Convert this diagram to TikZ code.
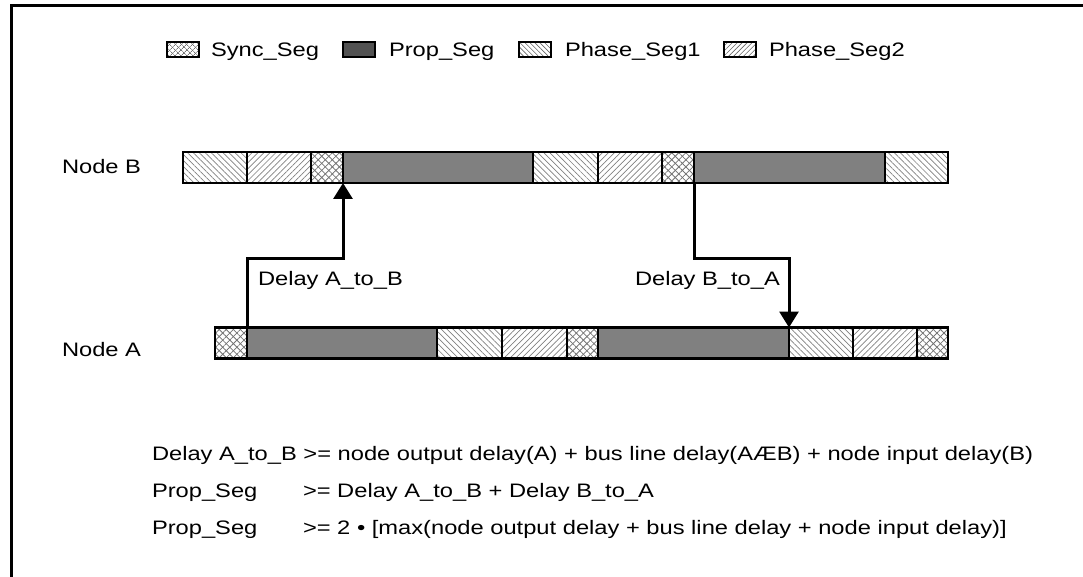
\documentclass[tikz,border=0pt]{standalone}
\usepackage{fontspec}
\setmainfont{Liberation Sans}[FakeStretch=1.215]
\usetikzlibrary{patterns.meta,arrows.meta}
\begin{document}
\begin{tikzpicture}[x=1pt,y=-1pt,
  every node/.style={inner sep=0pt,outer sep=0pt,font=\fontsize{19.5}{23}\selectfont},
  seg/.style={draw,line width=2.4pt,minimum height=31pt,rectangle},
  segsync/.style={seg,
    preaction={pattern={Lines[angle=45,distance=5pt,line width=0.8pt]},pattern color=black!55},
    pattern={Lines[angle=-45,distance=5pt,line width=0.8pt]},pattern color=black!55},
  segprop/.style={seg,fill=black!50},
  segph1/.style={seg,pattern={Lines[angle=-45,distance=4.2pt,line width=0.7pt]},pattern color=black!50},
  segph2/.style={seg,pattern={Lines[angle=45,distance=4.2pt,line width=0.7pt]},pattern color=black!50},
  legbox/.style={draw,line width=2pt,minimum width=32pt,minimum height=15pt,rectangle},
  lbl/.style={anchor=base west},
  conn/.style={line width=3pt},
  arr/.style={conn,-{Triangle[width=19pt,length=16pt]}}
]
\useasboundingbox (0,0) rectangle (1083,577);
% frame
\draw[line width=3pt] (11,577) -- (11,6) -- (1083,6);

% legend
\node[legbox,pattern={Lines[angle=45,distance=4pt,line width=0.7pt]},pattern color=black!55,
  preaction={pattern={Lines[angle=-45,distance=4pt,line width=0.7pt]},pattern color=black!55}] (l1) at (182.5,50) {};
\node[lbl] (t1) at (211,57) {Sync\_Seg};
\node[legbox,fill=black!68] (l2) at (359,50) {};
\node[lbl] (t2) at (389,57) {Prop\_Seg};
\node[legbox,pattern={Lines[angle=-45,distance=3.5pt,line width=0.6pt]},pattern color=black!60] (l3) at (534.5,50) {};
\node[lbl] (t3) at (565,57) {Phase\_Seg1};
\node[legbox,pattern={Lines[angle=45,distance=3.5pt,line width=0.6pt]},pattern color=black!60] (l4) at (740,50) {};
\node[lbl] (t4) at (769,57) {Phase\_Seg2};

% Node B bar: 183,247,311,343,533,598,662,694,885,948
\node[segph1, minimum width=64pt]  (b1) at (215,167.5) {};
\node[segph2, minimum width=64pt]  (b2) at (279,167.5) {};
\node[segsync,minimum width=32pt]  (b3) at (327,167.5) {};
\node[segprop,minimum width=190pt] (b4) at (438,167.5) {};
\node[segph1, minimum width=65pt]  (b5) at (565.5,167.5) {};
\node[segph2, minimum width=64pt]  (b6) at (630,167.5) {};
\node[segsync,minimum width=32pt]  (b7) at (678,167.5) {};
\node[segprop,minimum width=191pt] (b8) at (789.5,167.5) {};
\node[segph1, minimum width=63pt]  (b9) at (916.5,167.5) {};

% Node A bar: 215,247,437,502,567,598,789,853,917,948
\node[segsync,minimum width=32pt]  (a1) at (231,343) {};
\node[segprop,minimum width=190pt] (a2) at (342,343) {};
\node[segph1, minimum width=65pt]  (a3) at (469.5,343) {};
\node[segph2, minimum width=65pt]  (a4) at (534.5,343) {};
\node[segsync,minimum width=31pt]  (a5) at (582.5,343) {};
\node[segprop,minimum width=191pt] (a6) at (693.5,343) {};
\node[segph1, minimum width=64pt]  (a7) at (821,343) {};
\node[segph2, minimum width=64pt]  (a8) at (885,343) {};
\node[segsync,minimum width=31pt]  (a9) at (932.5,343) {};

\node[lbl] (nb) at (62,174) {Node B};
\node[lbl] (na) at (62,356) {Node A};

% connectors
\coordinate (ab) at (247,258);
\coordinate (ba) at (694,258);
\draw[arr] (a2.north west) -- (ab) -| (b4.south west);
\draw[arr] (b7.south east) -- (ba) -| (a7.north west);
\node[lbl] (dab) at (258,285) {Delay A\_to\_B};
\node[lbl] (dba) at (635,285) {Delay B\_to\_A};

% formulas
\node[lbl] (f1) at (152,460) {Delay A\_to\_B >= node output delay(A) + bus line delay(AÆB) + node input delay(B)};
\node[lbl] (f2a) at (152,497) {Prop\_Seg};
\node[lbl] (f2b) at (303,497) {>= Delay A\_to\_B + Delay B\_to\_A};
\node[lbl] (f3a) at (152,534) {Prop\_Seg};
\node[lbl] (f3b) at (303,534) {>= 2 • [max(node output delay + bus line delay + node input delay)]};
\end{tikzpicture}
\end{document}
